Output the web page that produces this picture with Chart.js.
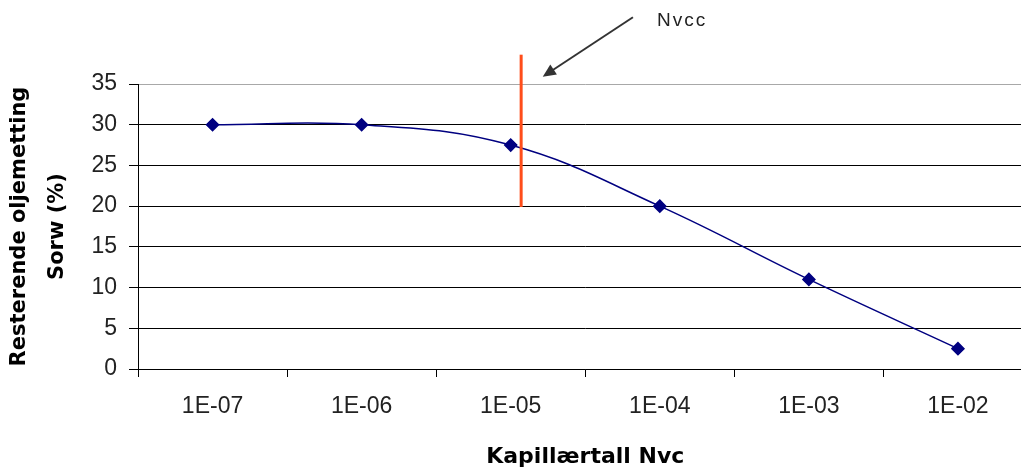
<!DOCTYPE html>
<html>
<head>
<meta charset="utf-8">
<script src="https://cdn.jsdelivr.net/npm/chart.js@4"></script>
<style>
  html, body { margin: 0; padding: 0; background: #fff; overflow: hidden; }
  #wrap { width: 1040px; height: 473px; }
</style>
</head>
<body>
<div id="wrap"><canvas id="myChart" width="1040" height="473"></canvas></div>
<script>
  // kapillærtall (kategorier) og restoljemetning
  const categories = ['1E-07', '1E-06', '1E-05', '1E-04', '1E-03', '1E-02'];
  const sorw = [30, 30, 27.5, 20, 11, 2.5];
  const yTicks = [0, 5, 10, 15, 20, 25, 30, 35];

  // Nvcc-markering (x i kategoriposisjon, y i %)
  const nvccAt = 2.07;
  const nvccSpan = [19.9, 38.6];
  const arrowFrom = [2.82, 43.2];
  const arrowTo = [2.215, 35.9];
  const nvccLabel = 'Nvcc';

  const nvccPlugin = {
    id: 'nvcc',
    afterDatasetsDraw(chart) {
      const c = chart.ctx, x = chart.scales.x, y = chart.scales.y;
      c.save();
      // oransje linje
      c.strokeStyle = '#ff4d1a';
      c.lineWidth = 3;
      c.beginPath();
      c.moveTo(x.getPixelForValue(nvccAt), y.getPixelForValue(nvccSpan[0]));
      c.lineTo(x.getPixelForValue(nvccAt), y.getPixelForValue(nvccSpan[1]));
      c.stroke();
      // pil
      const x1 = x.getPixelForValue(arrowFrom[0]), y1 = y.getPixelForValue(arrowFrom[1]);
      const x2 = x.getPixelForValue(arrowTo[0]), y2 = y.getPixelForValue(arrowTo[1]);
      const a = Math.atan2(y2 - y1, x2 - x1);
      c.strokeStyle = '#333';
      c.fillStyle = '#333';
      c.lineWidth = 2;
      c.beginPath();
      c.moveTo(x1, y1);
      c.lineTo(x2 - 8 * Math.cos(a), y2 - 8 * Math.sin(a));
      c.stroke();
      c.beginPath();
      c.moveTo(x2, y2);
      c.lineTo(x2 - 13 * Math.cos(a) + 6 * Math.sin(a), y2 - 13 * Math.sin(a) - 6 * Math.cos(a));
      c.lineTo(x2 - 13 * Math.cos(a) - 6 * Math.sin(a), y2 - 13 * Math.sin(a) + 6 * Math.cos(a));
      c.closePath();
      c.fill();
      // tekst
      c.fillStyle = '#222';
      c.font = '19px "Liberation Sans", Arial, sans-serif';
      c.letterSpacing = '2px';
      c.textBaseline = 'middle';
      c.textAlign = 'left';
      c.fillText(nvccLabel, x1 + 24, y1 + 4);
      c.restore();
    }
  };

  new Chart(document.getElementById('myChart'), {
    type: 'line',
    data: {
      labels: categories,
      datasets: [{
        label: 'Sorw',
        data: sorw,
        borderColor: '#000080',
        borderWidth: 1.5,
        tension: 0.4,
        pointStyle: 'rectRot',
        pointRadius: 6,
        pointBackgroundColor: '#000080',
        pointBorderColor: '#000080',
        fill: false
      }]
    },
    options: {
      responsive: false,
      animation: false,
      devicePixelRatio: 1,
      layout: { padding: { top: 84, right: 7, left: 0, bottom: 0 } },
      plugins: { legend: { display: false }, tooltip: { enabled: false } },
      scales: {
        x: {
          offset: true,
          grid: { drawOnChartArea: false, drawTicks: true, tickLength: 8, color: '#000', offset: true },
          border: { color: '#000', width: 1 },
          ticks: { color: '#222', padding: 16, maxRotation: 0,
                   font: { family: '"Liberation Sans", Arial, sans-serif', size: 23 } },
          title: { display: true, text: 'Kapillærtall Nvc', color: '#000',
                   padding: { top: 0, bottom: 3 },
                   font: { family: '"DejaVu Sans", sans-serif', size: 22, weight: 'bold', lineHeight: 1.2 } },
          afterFit(s) { s.height = 104; }
        },
        y: {
          min: 0, max: 35,
          afterBuildTicks(s) { s.ticks = yTicks.map(v => ({ value: v })); },
          grid: {
            color: c => (c.tick && c.tick.value === 35) ? '#a8a8a8' : '#000',
            tickColor: '#000',
            tickLength: 9,
            lineWidth: 1
          },
          border: { color: '#000', width: 1 },
          ticks: { color: '#222', padding: 12,
                   font: { family: '"Liberation Sans", Arial, sans-serif', size: 23 } },
          title: { display: true, text: ['Resterende oljemetting', 'Sorw (%)'], color: '#000',
                   padding: { top: 1, bottom: 0 },
                   font: { family: '"DejaVu Sans", sans-serif', size: 21, weight: 'bold', lineHeight: 1.8 } },
          afterFit(s) { s.width = 138; }
        }
      }
    },
    plugins: [nvccPlugin]
  });
</script>
</body>
</html>
